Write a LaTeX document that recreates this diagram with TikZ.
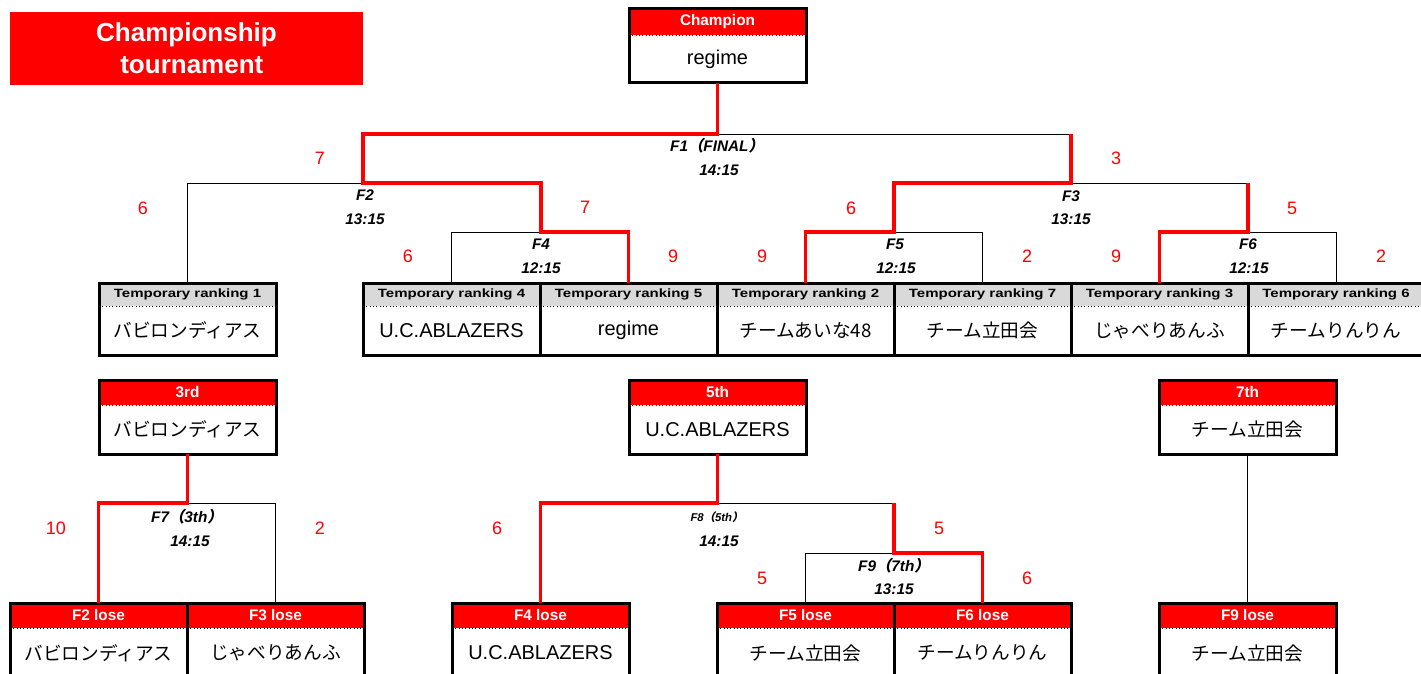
\documentclass[tikz,border=0pt]{standalone}
\usepackage{fontspec}
\setmainfont{Liberation Sans}
\newfontfamily\jp{Noto Sans CJK JP}
\newfontfamily\jpbi{Noto Sans CJK JP Bold}[FakeSlant=0.2]
\newfontfamily\hdfont{Liberation Sans Bold}[FakeStretch=1.25]
\definecolor{hdgray}{HTML}{D9D9D9}
\definecolor{wred}{HTML}{FF0000}
\newcommand\latintxt[1]{{\fontsize{15}{17}\selectfont #1}}
\newcommand\jptxt[1]{{\jp\fontsize{14}{16}\selectfont #1}}
\newcommand\jparen[1]{{\jpbi #1}}
\tikzset{
  hd/.style={inner sep=0pt, outer sep=0pt, anchor=north west},
  redhd/.style={hd, fill=wred, text=white, font=\bfseries\fontsize{11.5}{13}\selectfont},
  grayhd/.style={hd, fill=hdgray, font=\hdfont\fontsize{9}{11}\selectfont},
  bd/.style={inner sep=0pt, outer sep=0pt, anchor=north west, fill=white},
  frame/.style={line width=2.25pt},
  sepline/.style={line width=0.5pt, dotted},
  loseline/.style={line width=0.75pt, black},
  winline/.style={line width=2.4pt, wred},
  match/.style={font=\bfseries\itshape\fontsize{11.5}{13}\selectfont},
  smallmatch/.style={font=\bfseries\itshape\fontsize{8.5}{10}\selectfont},
  score/.style={text=wred, font=\fontsize{13.5}{15}\selectfont},
  titlebox/.style={fill=wred, text=white, inner sep=0pt, align=center,
    minimum width=353*0.75pt, minimum height=73*0.75pt,
    font=\bfseries\fontsize{19.5}{24}\selectfont},
}
% name, x, y, width, header height, body height, header style, header text, body
\newcommand\tbox[9]{%
  \node[#7, minimum width=#4*0.75pt, minimum height=#5*0.75pt] (#1h) at (#2,#3) {#8};
  \node[bd, minimum width=#4*0.75pt, minimum height=#6*0.75pt] (#1) at (#1h.south west) {#9};
  \draw[sepline] (#1h.south west) -- (#1h.south east);
  \draw[frame] (#1h.north west) rectangle (#1.south east);
}
\begin{document}
\begin{tikzpicture}[x=0.75pt, y=-0.75pt]
\useasboundingbox (0,0) rectangle (1421,674);

% title
\node[titlebox] (title) at (186.5,48.5) {Championship\\ \hspace*{8pt}tournament};

% boxes top
\tbox{champ}{629}{9}{177}{26}{48}{redhd}{Champion}{\latintxt{regime}}
\tbox{tr1}{99}{283}{177}{23}{49}{grayhd}{Temporary ranking 1}{\jptxt{バビロンディアス}}
\tbox{tr4}{363}{283}{177}{23}{49}{grayhd}{Temporary ranking 4}{\latintxt{U.C.ABLAZERS}}
\tbox{tr5}{540}{283}{177}{23}{49}{grayhd}{Temporary ranking 5}{\latintxt{regime}}
\tbox{tr2}{717}{283}{177}{23}{49}{grayhd}{Temporary ranking 2}{\jptxt{チームあいな48}}
\tbox{tr7}{894}{283}{177}{23}{49}{grayhd}{Temporary ranking 7}{\jptxt{チーム立田会}}
\tbox{tr3}{1071}{283}{177}{23}{49}{grayhd}{Temporary ranking 3}{\jptxt{じゃべりあんふ}}
\tbox{tr6}{1248}{283}{176}{23}{49}{grayhd}{Temporary ranking 6}{\jptxt{チームりんりん}}

% boxes bottom
\tbox{third}{99}{380}{177}{25}{49}{redhd}{3rd}{\jptxt{バビロンディアス}}
\tbox{fifth}{629}{380}{177}{25}{49}{redhd}{5th}{\latintxt{U.C.ABLAZERS}}
\tbox{seventh}{1159}{380}{177}{25}{49}{redhd}{7th}{\jptxt{チーム立田会}}
\tbox{fa}{10}{603}{177}{25}{50}{redhd}{F2 lose}{\jptxt{バビロンディアス}}
\tbox{fb}{187}{603}{177}{25}{50}{redhd}{F3 lose}{\jptxt{じゃべりあんふ}}
\tbox{fc}{452}{603}{177}{25}{50}{redhd}{F4 lose}{\latintxt{U.C.ABLAZERS}}
\tbox{fd}{717}{603}{177}{25}{50}{redhd}{F5 lose}{\jptxt{チーム立田会}}
\tbox{fe}{894}{603}{177}{25}{50}{redhd}{F6 lose}{\jptxt{チームりんりん}}
\tbox{ff}{1159}{603}{177}{25}{50}{redhd}{F9 lose}{\jptxt{チーム立田会}}

% junctions
\coordinate (F1l) at (363,134);  \coordinate (F1r) at (1071,134);
\coordinate (F2r) at (541,183);  \coordinate (F3l) at (894,183); \coordinate (F3r) at (1248,183);
\coordinate (F4y) at (541,232);  \coordinate (F5y) at (894,232); \coordinate (F6y) at (1248,232);
\coordinate (F7) at (187,503);
\coordinate (F8) at (717,503);   \coordinate (F8r) at (894,503);
\coordinate (F9) at (894,553);

% losing (black) lines
\draw[loseline] (champ.south |- F1l) -- (F1r);
\draw[loseline] (tr1h.north) |- (F1l |- F2r);
\draw[loseline] (tr4h.north) |- (F4y);
\draw[loseline] (F1r |- F3r) -- (F3r);
\draw[loseline] (tr7h.north) |- (F5y);
\draw[loseline] (tr6h.north) |- (F6y);
\draw[loseline] (third.south |- F7) -| (fbh.north);
\draw[loseline] (F8) -- (F8r);
\draw[loseline] (F9) -| (fdh.north);
\draw[loseline] (seventh.south) -- (ffh.north);

% winning (red) lines
\draw[winline] (champ.south) |- (F1l) -- (F1l |- F2r) -- (F2r) -- (F4y) -| (tr5h.north);
\draw[winline] (F1r) -- (F1r |- F3l) -- (F3l) -- (F5y) -| (tr2h.north);
\draw[winline] (F3r) -- (F6y) -| (tr3h.north);
\draw[winline] (third.south) -- (third.south |- F7) -| (fah.north);
\draw[winline] (fifth.south) -- (fifth.south |- F8) -| (fch.north);
\draw[winline] (F8r) -- (F9) -| (feh.north);

% match labels
\node[match] (m1) at (717,146) {F1\jparen{（}FINAL\jparen{）}};
\node[match] (t1) at (719,170) {14:15};
\node[match] (m2) at (365,195) {F2};
\node[match] (t2) at (365,219) {13:15};
\node[match] (m3) at (1071,196) {F3};
\node[match] (t3) at (1071,219) {13:15};
\node[match] (m4) at (541,244) {F4};
\node[match] (t4) at (541,268) {12:15};
\node[match] (m5) at (895,244) {F5};
\node[match] (t5) at (896,268) {12:15};
\node[match] (m6) at (1248,244) {F6};
\node[match] (t6) at (1249,268) {12:15};
\node[match] (m7) at (187,517) {F7\jparen{（}3th\jparen{）}};
\node[match] (t7) at (190,541) {14:15};
\node[smallmatch] (m8) at (717,517) {F8\jparen{（}5th\jparen{）}};
\node[match] (t8) at (719,541) {14:15};
\node[match] (m9) at (894,566) {F9\jparen{（}7th\jparen{）}};
\node[match] (t9) at (894,589) {13:15};

% scores
\node[score] (s1) at (320,158) {7};
\node[score] (s2) at (1116,158) {3};
\node[score] (s3) at (143,208) {6};
\node[score] (s4) at (585,207) {7};
\node[score] (s5) at (851,208) {6};
\node[score] (s6) at (1292,208) {5};
\node[score] (s7) at (408,256) {6};
\node[score] (s8) at (673,256) {9};
\node[score] (s9) at (762,256) {9};
\node[score] (s10) at (1027,256) {2};
\node[score] (s11) at (1116,256) {9};
\node[score] (s12) at (1381,256) {2};
\node[score] (s13) at (56,528) {10};
\node[score] (s14) at (320,528) {2};
\node[score] (s15) at (497,528) {6};
\node[score] (s16) at (939,528) {5};
\node[score] (s17) at (762,578) {5};
\node[score] (s18) at (1027,578) {6};
\end{tikzpicture}
\end{document}
